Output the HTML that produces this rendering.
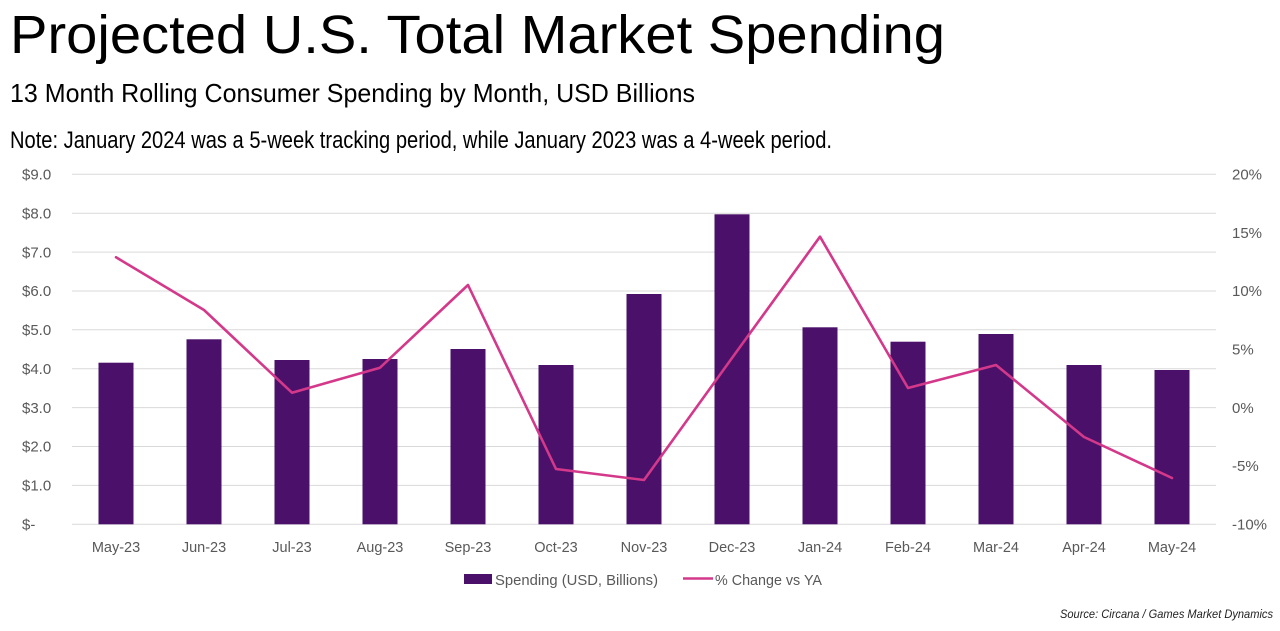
<!DOCTYPE html>
<html>
<head>
<meta charset="utf-8">
<style>
html,body{margin:0;padding:0;background:#fff;}
svg{display:block;}
text{font-family:"Liberation Sans",Arial,sans-serif;}
</style>
</head>
<body>
<svg width="1280" height="631" viewBox="0 0 1280 631" xmlns="http://www.w3.org/2000/svg">
<rect width="1280" height="631" fill="#fff"/>
<!-- Titles -->
<text x="10" y="53" font-size="54" fill="#000" textLength="935" lengthAdjust="spacingAndGlyphs">Projected U.S. Total Market Spending</text>
<text x="10" y="102" font-size="26" fill="#000" textLength="685" lengthAdjust="spacingAndGlyphs">13 Month Rolling Consumer Spending by Month, USD Billions</text>
<text x="10" y="148" font-size="24" fill="#000" textLength="822" lengthAdjust="spacingAndGlyphs">Note: January 2024 was a 5-week tracking period, while January 2023 was a 4-week period.</text>

<!-- Gridlines -->
<g stroke="#d9d9d9" stroke-width="1">
<line x1="72" x2="1216" y1="174.3" y2="174.3"/>
<line x1="72" x2="1216" y1="213.2" y2="213.2"/>
<line x1="72" x2="1216" y1="252.1" y2="252.1"/>
<line x1="72" x2="1216" y1="291" y2="291"/>
<line x1="72" x2="1216" y1="329.8" y2="329.8"/>
<line x1="72" x2="1216" y1="368.7" y2="368.7"/>
<line x1="72" x2="1216" y1="407.6" y2="407.6"/>
<line x1="72" x2="1216" y1="446.5" y2="446.5"/>
<line x1="72" x2="1216" y1="485.4" y2="485.4"/>
<line x1="72" x2="1216" y1="524.3" y2="524.3"/>
</g>

<!-- Left axis labels -->
<g font-size="15" fill="#595959">
<text x="22" y="179.5">$9.0</text>
<text x="22" y="218.4">$8.0</text>
<text x="22" y="257.3">$7.0</text>
<text x="22" y="296.2">$6.0</text>
<text x="22" y="335">$5.0</text>
<text x="22" y="373.9">$4.0</text>
<text x="22" y="412.8">$3.0</text>
<text x="22" y="451.7">$2.0</text>
<text x="22" y="490.6">$1.0</text>
<text x="22" y="529.5">$-</text>
</g>

<!-- Right axis labels -->
<g font-size="15" fill="#595959">
<text x="1232" y="179.5">20%</text>
<text x="1232" y="237.8">15%</text>
<text x="1232" y="296.2">10%</text>
<text x="1232" y="354.5">5%</text>
<text x="1232" y="412.8">0%</text>
<text x="1232" y="471.2">-5%</text>
<text x="1232" y="529.5">-10%</text>
</g>

<!-- Bars -->
<g fill="#4a106a">
<rect x="98.5" y="362.7" width="35" height="161.6"/>
<rect x="186.5" y="339.3" width="35" height="185"/>
<rect x="274.5" y="360" width="35" height="164.3"/>
<rect x="362.5" y="359" width="35" height="165.3"/>
<rect x="450.5" y="349" width="35" height="175.3"/>
<rect x="538.5" y="365" width="35" height="159.3"/>
<rect x="626.5" y="294" width="35" height="230.3"/>
<rect x="714.5" y="214.3" width="35" height="310"/>
<rect x="802.5" y="327.3" width="35" height="197"/>
<rect x="890.5" y="341.7" width="35" height="182.6"/>
<rect x="978.5" y="334" width="35" height="190.3"/>
<rect x="1066.5" y="365" width="35" height="159.3"/>
<rect x="1154.5" y="370" width="35" height="154.3"/>
</g>

<!-- Line -->
<polyline fill="none" stroke="#d4388a" stroke-width="2.6" stroke-linejoin="round" stroke-linecap="round"
points="116,257.3 204,310 292,392.7 380,367.7 468,285 556,469 644,480 732,358 820,236.7 908,388 996,365 1084,437 1172,478"/>

<!-- X labels -->
<g font-size="14.5" fill="#595959" text-anchor="middle">
<text x="116" y="552">May-23</text>
<text x="204" y="552">Jun-23</text>
<text x="292" y="552">Jul-23</text>
<text x="380" y="552">Aug-23</text>
<text x="468" y="552">Sep-23</text>
<text x="556" y="552">Oct-23</text>
<text x="644" y="552">Nov-23</text>
<text x="732" y="552">Dec-23</text>
<text x="820" y="552">Jan-24</text>
<text x="908" y="552">Feb-24</text>
<text x="996" y="552">Mar-24</text>
<text x="1084" y="552">Apr-24</text>
<text x="1172" y="552">May-24</text>
</g>

<!-- Legend -->
<rect x="464" y="574" width="28" height="10" fill="#4a106a"/>
<text x="495" y="585" font-size="15" fill="#595959" textLength="163" lengthAdjust="spacingAndGlyphs">Spending (USD, Billions)</text>
<line x1="683" x2="713" y1="578.5" y2="578.5" stroke="#d4388a" stroke-width="2.6"/>
<text x="715" y="585" font-size="15" fill="#595959" textLength="107" lengthAdjust="spacingAndGlyphs">% Change vs YA</text>

<!-- Source -->
<text x="1060" y="618" font-size="12" font-style="italic" fill="#222" textLength="213" lengthAdjust="spacingAndGlyphs">Source: Circana / Games Market Dynamics</text>
</svg>
</body>
</html>
